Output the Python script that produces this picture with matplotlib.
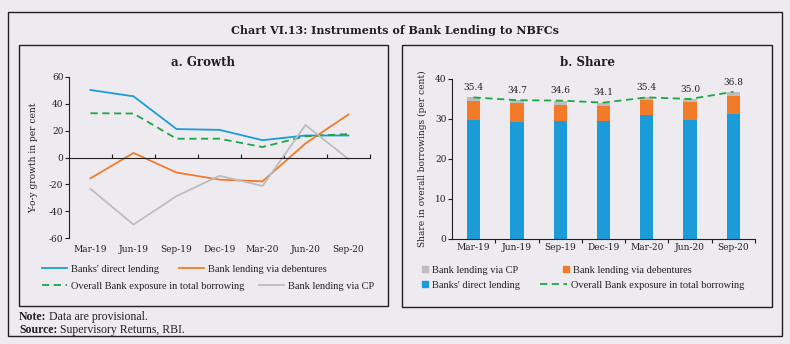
import numpy as np
import matplotlib
matplotlib.use("Agg")
import matplotlib.pyplot as plt
from matplotlib.patches import Rectangle
from matplotlib.lines import Line2D

plt.rcParams['font.family'] = ['DejaVu Serif']
plt.rcParams['axes.unicode_minus'] = False

############################################################################
# donnees

quarters = ["Mar-19", "Jun-19", "Sep-19", "Dec-19", "Mar-20", "Jun-20", "Sep-20"]

# a. Growth (y-o-y, per cent)
direct_growth = [50.3, 45.6, 21.2, 20.6, 12.9, 16.4, 16.4]
debenture_growth = [-15.5, 3.4, -11.2, -16.5, -17.8, 10.5, 32.1]
overall_growth = [33.0, 32.8, 14.0, 14.0, 7.8, 15.8, 17.5]
cp_growth = [-23.4, -50.0, -28.8, -13.6, -21.2, 24.2, -1.2]

# b. Share in overall borrowings (per cent)
direct_share = [29.7, 29.3, 29.6, 29.5, 31.0, 29.7, 31.2]
debenture_share = [4.9, 4.8, 4.0, 3.7, 3.8, 4.5, 4.6]
total_share = [35.4, 34.7, 34.6, 34.1, 35.4, 35.0, 36.8]

BLUE = "#1B9BD7"
ORANGE = "#F37A28"
GRAY = "#BDBDBD"
GREEN = "#1DA64A"
BG = "#EEEBF0"
DARK = "#231F20"
NARROW = "Liberation Serif"

W, H = 790, 344

def fx(px):
    return px / W

def fy(py):
    return 1 - py / H

fig = plt.figure(figsize=(7.9, 3.44), dpi=100)
fig.patch.set_facecolor(BG)

# cadres
fig.add_artist(Rectangle((fx(8), fy(336)), fx(774), (336 - 12) / H, transform=fig.transFigure,
                         fill=False, edgecolor=DARK, lw=1.0))
fig.add_artist(Rectangle((fx(19), fy(306)), fx(369), (306 - 45) / H, transform=fig.transFigure,
                         fill=False, edgecolor=DARK, lw=1.0))
fig.add_artist(Rectangle((fx(402), fy(307)), fx(370), (307 - 45) / H, transform=fig.transFigure,
                         fill=False, edgecolor=DARK, lw=1.0))

fig.text(fx(395), fy(30), "Chart VI.13: Instruments of Bank Lending to NBFCs",
         ha="center", va="center", fontsize=8, fontweight="bold", color=DARK)
fig.text(fx(203), fy(62), "a. Growth", ha="center", va="center", fontsize=8.5,
         fontweight="bold", color=DARK)
fig.text(fx(587), fy(63), "b. Share", ha="center", va="center", fontsize=8.5,
         fontweight="bold", color=DARK)

# notes : le texte normal suit le mot en gras
renderer = fig.canvas.get_renderer()
for tete, suite, py in [("Note:", "Data are provisional.", 317),
                        ("Source:", "Supervisory Returns, RBI.", 330)]:
    t = fig.text(fx(19), fy(py), tete, ha="left", va="center", fontsize=8.5,
                 fontweight="bold", color=DARK, family=NARROW)
    bb = t.get_window_extent(renderer)
    fig.text(fx(bb.x1 + 3), fy(py), suite, ha="left", va="center", fontsize=8.5,
             color=DARK, family=NARROW)

x = np.arange(len(quarters))

############################################################################
# a. Growth

ax1 = fig.add_axes([fx(69), fy(238), fx(301), (238 - 77) / H])
ax1.set_facecolor("none")
ax1.plot(x, direct_growth, color=BLUE, lw=1.3)
ax1.plot(x, debenture_growth, color=ORANGE, lw=1.3)
ax1.plot(x, overall_growth, color=GREEN, lw=1.3, ls=(0, (4, 2.5)))
ax1.plot(x, cp_growth, color=GRAY, lw=1.3)
ax1.set_xlim(-0.5, 6.5)
ax1.set_ylim(-60, 60)
ax1.set_yticks([-60, -40, -20, 0, 20, 40, 60])
for s in ["top", "right"]:
    ax1.spines[s].set_visible(False)
ax1.spines["bottom"].set_position(("data", 0))
ax1.spines["left"].set_color(DARK)
ax1.spines["bottom"].set_color(DARK)
ax1.set_xticks(np.arange(0.5, 7, 1))
ax1.set_xticklabels([])
ax1.tick_params(axis="x", direction="in", length=3, color=DARK)
ax1.tick_params(axis="y", direction="out", length=3, labelsize=6.5, color=DARK, labelcolor=DARK, pad=1)
sec = ax1.secondary_xaxis(0)
sec.set_xticks(x, quarters)
sec.tick_params(length=0, labelsize=6.5, labelcolor=DARK, pad=5)
sec.spines["bottom"].set_visible(False)
ax1.set_ylabel("Y-o-y growth in per cent", fontsize=6.5, color=DARK, labelpad=8)

############################################################################
# b. Share

ax2 = fig.add_axes([fx(452), fy(239), fx(303), (239 - 79) / H])
ax2.set_facecolor("none")
cp_share = np.array(total_share) - np.array(direct_share) - np.array(debenture_share)
bw = 0.31
ax2.bar(x, direct_share, bw, color=BLUE)
ax2.bar(x, debenture_share, bw, bottom=direct_share, color=ORANGE)
ax2.bar(x, cp_share, bw, bottom=np.array(direct_share) + np.array(debenture_share), color=GRAY)
ax2.plot(x, total_share, color=GREEN, lw=1.3, ls=(0, (4, 2.5)))
for i, v in enumerate(total_share):
    ax2.text(i, v + 1.3, "{:.1f}".format(v), ha="center", va="bottom", fontsize=6.5, color=DARK)
ax2.set_xlim(-0.5, 6.5)
ax2.set_ylim(0, 40)
ax2.set_yticks([0, 10, 20, 30, 40])
for s in ["top", "right"]:
    ax2.spines[s].set_visible(False)
ax2.spines["left"].set_color(DARK)
ax2.spines["bottom"].set_color(DARK)
ax2.set_xticks(np.arange(0.5, 7, 1))
ax2.set_xticklabels([])
ax2.set_xticks(x, minor=True)
ax2.set_xticklabels(quarters, minor=True)
ax2.tick_params(axis="x", which="major", direction="out", length=3, color=DARK)
ax2.tick_params(axis="x", which="minor", length=0, labelsize=6.5, labelcolor=DARK, pad=3)
ax2.tick_params(axis="y", direction="out", length=3, labelsize=6.5, color=DARK, labelcolor=DARK, pad=1)
ax2.set_ylabel("Share in overall borrowings (per cent)", fontsize=6.5, color=DARK, labelpad=6)

############################################################################
# legendes, placees entree par entree

def entree(handle, label, px, py, hl=2.0):
    leg = fig.legend([handle], [label], loc="center left", bbox_to_anchor=(fx(px), fy(py)),
                     bbox_transform=fig.transFigure, frameon=False,
                     prop={"family": NARROW, "size": 7.5},
                     handlelength=hl, handletextpad=0.4, borderpad=0, borderaxespad=0)
    for t in leg.get_texts():
        t.set_color(DARK)

def ligne(c, ls="-"):
    return Line2D([], [], color=c, lw=1.3, ls=ls)

def carre(c):
    return Line2D([], [], color=c, marker="s", ls="none", markersize=4)

entree(ligne(BLUE), "Banks' direct lending", 42, 269, 2.4)
entree(ligne(ORANGE), "Bank lending via debentures", 179, 269, 2.4)
entree(ligne(GREEN, (0, (4, 2.5))), "Overall Bank exposure in total borrowing", 42, 286, 2.4)
entree(ligne(GRAY), "Bank lending via CP", 259, 286, 2.4)

entree(carre(GRAY), "Bank lending via CP", 422, 270, 0.6)
entree(carre(ORANGE), "Bank lending via debentures", 563, 270, 0.6)
entree(carre(BLUE), "Banks' direct lending", 422, 285, 0.6)
entree(ligne(GREEN, (0, (4, 2.5))), "Overall Bank exposure in total borrowing", 540, 285, 2.6)

fig.savefig("out.png", dpi=100, facecolor=fig.get_facecolor())
